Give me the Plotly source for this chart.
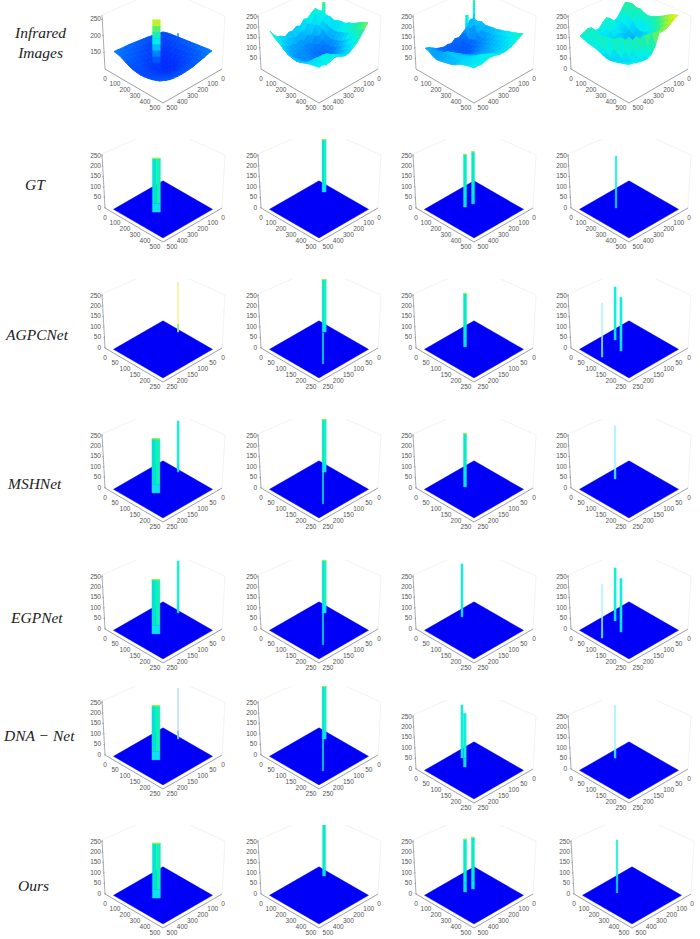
import plotly.graph_objects as go

# ---------- data ----------
ROW_LABELS = ["Infrared<br>Images", "GT", "AGPCNet", "MSHNet", "EGPNet", "DNA − Net", "Ours"]
AXIS_MAX = [500, 500, 250, 250, 250, 250, 500]
HEIGHT_TICKS = [0, 50, 100, 150, 200, 250]
FIRST_ROW_HEIGHT_TICKS = [[150, 200, 250], [50, 100, 150, 200, 250], [50, 100, 150, 200, 250], [0, 50, 100, 150, 200, 250]]
FIRST_ROW_BASE = [100, 0, 0, 0]

# infrared intensity surfaces, rows along the right axis, columns along the left axis
SURFACE_1 = [
    [130,133,136,138,141,143,145,147,149,151,152,153,155,156],
    [134,127,128,130,132,134,136,139,142,145,148,150,153,154],
    [137,128,124,124,125,127,130,133,137,140,144,147,150,150],
    [139,130,124,120,120,122,124,128,132,135,139,142,144,144],
    [141,132,126,120,116,116,118,122,126,130,134,138,140,138],
    [143,134,127,121,116,113,114,117,121,125,129,133,136,134],
    [145,136,129,122,117,113,112,113,117,121,126,130,133,132],
    [147,138,131,124,118,114,112,112,115,119,124,128,131,131],
    [149,141,134,127,121,116,113,113,115,119,124,128,131,132],
    [151,144,137,131,125,120,117,116,117,121,125,129,132,134],
    [153,147,141,135,130,126,123,122,122,125,128,131,134,137],
    [155,150,145,140,136,132,130,129,128,130,132,134,137,141],
    [157,153,149,145,141,138,136,135,134,135,136,138,141,146],
    [158,156,152,149,146,143,142,141,140,141,142,144,148,153]]
SURFACE_2 = [
    [150,172,160,145,150,128,138,125,130,118,132,140,158,187],
    [158,150,165,125,135,110,118,105,112,120,118,130,150,170],
    [148,135,118,130,95,105,88,100,92,105,100,118,128,158],
    [152,125,110,88,100,75,85,80,90,82,95,98,112,148],
    [145,118,95,82,70,80,68,78,85,80,88,92,102,136],
    [155,115,88,72,78,62,70,72,80,85,78,90,98,128],
    [160,120,92,70,62,68,58,65,75,78,82,85,95,124],
    [162,128,98,78,65,58,62,60,70,78,85,92,100,122],
    [175,135,108,90,75,68,60,68,72,85,95,100,108,126],
    [182,148,122,102,88,78,72,78,88,100,112,118,118,130],
    [195,165,138,118,102,95,92,98,108,122,135,138,128,135],
    [208,180,155,132,118,108,108,118,132,150,155,145,132,140],
    [218,195,170,148,130,122,125,135,148,158,155,142,138,145],
    [228,205,182,160,148,135,132,138,150,152,145,140,150,148]]
SURFACE_3 = [
    [112,118,90,75,62,68,55,60,58,65,72,85,98,105],
    [108,125,95,70,58,50,58,48,55,62,70,88,95,102],
    [118,110,120,62,50,46,44,50,52,60,72,82,98,88],
    [112,100,88,70,55,46,42,45,55,65,78,92,108,82],
    [115,98,80,72,62,52,48,50,62,78,92,108,112,85],
    [120,102,88,78,72,62,58,62,72,88,102,115,118,90],
    [122,108,96,88,82,75,70,72,82,96,108,118,120,95],
    [130,115,105,96,90,85,82,85,92,102,112,122,118,100],
    [135,122,112,105,98,95,90,92,98,108,118,122,118,108],
    [145,130,120,112,105,100,98,102,112,120,126,128,128,122],
    [150,138,128,120,112,108,108,115,125,132,136,132,130,130],
    [158,145,135,128,120,118,120,128,138,145,142,136,134,136],
    [165,152,142,136,130,128,132,140,148,152,145,138,140,142],
    [175,165,155,146,140,138,140,145,150,152,148,142,146,145]]
SURFACE_4 = [
    [188,200,175,150,142,165,178,165,145,150,172,178,170,163],
    [192,195,172,140,135,155,172,155,138,142,168,172,165,158],
    [185,192,165,130,125,145,155,142,130,138,165,170,160,152],
    [190,180,150,118,112,125,132,125,120,130,155,172,162,150],
    [182,165,130,108,102,108,115,110,112,128,150,180,165,148],
    [178,158,122,102,95,95,100,100,108,125,160,190,150,142],
    [185,162,128,108,96,92,95,100,112,135,178,195,135,135],
    [195,172,142,120,105,100,102,110,128,155,195,150,125,130],
    [205,188,162,138,122,115,118,130,152,185,205,138,122,130],
    [218,202,182,160,145,138,142,158,182,208,150,125,125,135],
    [232,218,200,182,170,168,175,190,212,160,132,125,130,140],
    [245,232,216,202,195,198,208,218,168,140,130,130,138,148],
    [255,245,230,220,215,222,225,170,145,135,135,140,148,155],
    [264,255,242,232,228,230,180,150,140,140,145,150,158,162]]
SURFACES = [SURFACE_1, SURFACE_2, SURFACE_3, SURFACE_4]

# spikes on the surfaces: (right-axis pos, left-axis pos, low value, high value)
SURFACE_SPIKES = [
    [(252, 308, 112, 262), (196, 69, 130, 160)],
    [(95, 55, 150, 207)],
    [(50, 50, 105, 200), (80, 140, 70, 168), (120, 170, 60, 110)],
    [],
]

# binary results: (right-axis pos, left-axis pos, value), one list per panel
GT_PEAKS = [[(252,308,260)], [(154,111,255)], [(205,281,255),(216,224,252)], [(195,305,250)]]
AGPCNET_PEAKS = [[(98,34,240)], [(77,55,255),(192,175,150)], [(102,140,258)], [(66,125,255),(101,215,258),(119,153,258)]]
MSHNET_PEAKS = [[(98,34,245),(128,158,262)], [(77,55,255),(192,175,158)], [(102,140,258)], [(62,121,255)]]
EGPNET_PEAKS = [[(98,34,250),(128,158,262)], [(77,55,255),(192,175,158)], [(55,106,255)], [(66,125,255),(101,215,258),(119,153,258)]]
DNANET_PEAKS = [[(98,34,245),(128,158,262)], [(77,55,255),(192,175,158)], [(59,110,255),(98,137,258)], [(55,114,252)]]
OURS_PEAKS = [[(252,308,265)], [(139,96,250)], [(197,273,255),(209,218,250)], [(179,306,255)]]
ROW_PEAKS = [None, GT_PEAKS, AGPCNET_PEAKS, MSHNET_PEAKS, EGPNET_PEAKS, DNANET_PEAKS, OURS_PEAKS]

# ---------- styles and layout ----------
PEAK_STYLES = [None,
    [[(8,"main")], [(4,"main")], [(3,"main"),(3,"main")], [(1.5,"thin")]],
    [[(1,"yellow")], [(4,"main"),(1.2,"thin")], [(3,"main")], [(2.2,"thin"),(1.2,"pale"),(2.2,"thin")]],
    [[(2,"thin"),(8,"main")], [(4,"main"),(1.2,"thin")], [(3,"main")], [(1.5,"pale")]],
    [[(2,"thin"),(8,"main")], [(4,"main"),(1.2,"thin")], [(2,"thin")], [(2.2,"thin"),(1.2,"pale"),(2.2,"thin")]],
    [[(1.2,"paleblue"),(8,"main")], [(4,"main"),(1.2,"thin")], [(2.2,"thin"),(2.8,"thin")], [(1.5,"pale")]],
    [[(8,"main")], [(3,"main")], [(3,"main"),(3,"main")], [(1.5,"thin")]],
]
SPIKE_WIDTHS = [[8, 1], [3], [2, 3, 1], []]
COL_X = [163, 319, 474, 629]
ROW_Y = [69, 208, 348, 488, 629, 755, 894]
HEAD, FOOT, HALF = 69, 45, 68
W, H = 700, 939
LABEL_POS = [(40, 43), (35, 184), (37, 335), (34, 483), (36, 617), (39, 735), (33, 885)]
STOPS = [(0,(0,24,255)),(.3,(0,100,255)),(.5,(0,200,255)),(.6,(0,240,240)),(.77,(30,240,160)),(.88,(140,240,70)),(1,(240,240,0))]


def cmap(t):
    t = max(0, min(1, t))
    for (a, ca), (b, cb) in zip(STOPS, STOPS[1:]):
        if t <= b:
            f = (t - a) / (b - a)
            return "rgb(%d,%d,%d)" % tuple(ca[i] + f * (cb[i] - ca[i]) for i in range(3))
    return "rgb(240,240,0)"


fig = go.Figure()
axes = {}


def poly(xs, ys, color, ax, lw=0.4):
    fig.add_trace(go.Scatter(x=xs + xs[:1], y=ys + ys[:1], mode="lines", fill="toself", fillcolor=color,
                             line=dict(color=color, width=lw), hoverinfo="skip", showlegend=False,
                             xaxis="x" + ax, yaxis="y" + ax, cliponaxis=True))


def line(xs, ys, color, width, ax):
    fig.add_trace(go.Scatter(x=xs, y=ys, mode="lines", line=dict(color=color, width=width), hoverinfo="skip",
                             showlegend=False, xaxis="x" + ax, yaxis="y" + ax, cliponaxis=False))


def text(xs, ys, labels, pos, ax):
    fig.add_trace(go.Scatter(x=xs, y=ys, mode="text", text=[str(v) for v in labels], textposition=pos,
                             textfont=dict(family="Liberation Sans", size=6.5, color="#555"), hoverinfo="skip",
                             showlegend=False, xaxis="x" + ax, yaxis="y" + ax, cliponaxis=False))


def proj(u, v, z=0.0, base=0.0, scale=0.208):
    return 59 * (u - v), -34 + 34 * (u + v) - (z - base) * scale


def frame(axmax, ticks, base, scale, ax):
    line([-61, 0, 62, 59], [-54, -81, -53, 0], "#efefef", 0.8, ax)
    line([-58, 0, 59], [0, 34, 0], "#a0a0a0", 1, ax)
    line([-58, -61], [0, -54], "#8a8a8a", 0.7, ax)
    tz = [(t - base) * scale for t in ticks]
    text([-62] * len(ticks), [-t for t in tz], ticks, "middle left", ax)
    for t in tz:
        line([-59 - t * .055, -57.5 - t * .055], [-t, -t - .6], "#777", 0.6, ax)
    n = [axmax * i // 5 for i in range(6)]
    lx = [-58 + 50 * i / 5 for i in range(6)]
    rx = [60 - 51 * i / 5 for i in range(6)]
    ly = [10 + 29 * i / 5 for i in range(6)]
    text(lx, ly, n, "middle center", ax)
    text(rx, ly, n, "middle center", ax)


def bar(x, ybase, ytop, w, kind, ax):
    l, rgt = x - w / 2, x + w / 2
    if kind in ("pale", "yellow", "paleblue"):
        col = {"pale": "#a8f4ff", "yellow": "#f4f088", "paleblue": "#bcdcff"}[kind]
        poly([l, rgt, rgt, l], [ybase, ybase, ytop, ytop], col, ax)
        foot = {"pale": "#30d8f0", "yellow": "#90e070", "paleblue": "#70b8f8"}[kind]
        poly([l, rgt, rgt, l], [ybase, ybase, ybase - 8, ybase - 8], foot, ax)
        return
    split = ybase - (ybase - ytop) * 0.16
    if kind == "main" and w >= 4:
        poly([l, x, x, l], [split, split, ytop, ytop], "#00e4d0", ax)
        poly([x, rgt, rgt, x], [split, split, ytop, ytop], "#14f0b8", ax)
    else:
        poly([l, rgt, rgt, l], [split, split, ytop, ytop], "#08ecc4" if kind == "main" else "#10f0d8", ax)
    poly([l, rgt, rgt, l], [ybase, ybase, split, split], "#10e0ee", ax)
    if kind == "main":
        poly([l, rgt, rgt, l], [ytop + 0.8, ytop + 0.8, ytop, ytop], "#d8f000", ax, 0.1)


panel = 0
for r, Y in enumerate(ROW_Y):
    for c in range(4):
        panel += 1
        ax = "" if panel == 1 else str(panel)
        cx = 632 if (r == 6 and c == 3) else COL_X[c]
        y_here = 769 if (r == 5 and c >= 2) else Y
        axes["xaxis" + ax] = dict(domain=[(cx - HALF) / W, (cx + HALF) / W], range=[-HALF, HALF], visible=False, fixedrange=True)
        axes["yaxis" + ax] = dict(domain=[1 - (y_here + FOOT) / H, 1 - (y_here - HEAD) / H], range=[FOOT, -HEAD], visible=False, fixedrange=True)
        axmax = AXIS_MAX[r]
        if r == 0:
            base = FIRST_ROW_BASE[c]
            scale = 0.33 if c == 0 else 0.208
            frame(axmax, FIRST_ROW_HEIGHT_TICKS[c], base, scale, ax)
            grid = SURFACES[c]
            n = len(grid)
            pos = [0.1 + 0.83 * i / (n - 1) for i in range(n)]
            lo, hi = (100, 262) if c == 0 else (-30, 262)
            step = pos[1] - pos[0]
            items = []
            for i in range(n - 1):
                for j in range(n - 1):
                    corners = [(i, j), (i + 1, j), (i + 1, j + 1), (i, j + 1)]
                    pts = [proj(pos[a], pos[b], grid[a][b], base, scale) for a, b in corners]
                    zm = sum(grid[a][b] for a, b in corners) / 4
                    items.append((pos[i] + pos[j] + step, "q", pts, zm))
            for (u, v, zl, zh), w in zip(SURFACE_SPIKES[c], SPIKE_WIDTHS[c]):
                items.append(((u + v) / axmax, "s", (u / axmax, v / axmax, zl, zh), w))
            items.sort(key=lambda it: it[0])
            for _, kind, a, b in items:
                if kind == "q":
                    poly([p[0] for p in a], [p[1] for p in a], cmap((b - lo) / (hi - lo)), ax, 0.9)
                else:
                    u, v, zl, zh = a
                    steps = 8
                    for k in range(steps):
                        z0 = zl + (zh - zl) * k / steps
                        z1 = zl + (zh - zl) * (k + 1) / steps
                        x, y0 = proj(u, v, z0, base, scale)
                        _, y1 = proj(u, v, z1, base, scale)
                        poly([x - b / 2, x + b / 2, x + b / 2, x - b / 2], [y0, y0, y1, y1], cmap(((z0 + z1) / 2 - lo) / (hi - lo)), ax, 0.3)
        else:
            frame(axmax, HEIGHT_TICKS, 0, 0.208, ax)
            f = [proj(a, b) for a, b in [(.1, .1), (.94, .1), (.94, .94), (.1, .94)]]
            poly([p[0] for p in f], [p[1] for p in f], "#0000f8", ax)
            order = sorted(zip(ROW_PEAKS[r][c], PEAK_STYLES[r][c]), key=lambda t: t[0][0] + t[0][1])
            for (u, v, z), (w, kind) in order:
                x, y0 = proj(u / axmax, v / axmax)
                _, y1 = proj(u / axmax, v / axmax, z)
                bar(x, y0, y1, w, kind, ax)

fig.update_layout(width=W, height=H, margin=dict(l=0, r=0, t=0, b=0), paper_bgcolor="white", plot_bgcolor="rgba(0,0,0,0)",
                  showlegend=False, **axes)
for lab, (x, y) in zip(ROW_LABELS, LABEL_POS):
    fig.add_annotation(text=lab, x=x / W, y=1 - y / H, xref="paper", yref="paper", showarrow=False, xanchor="center", yanchor="middle",
                       align="center", font=dict(family="Liberation Serif", size=15.5, color="#222", style="italic"))
fig.write_html("out.html", post_script="document.body.style.margin='0';", config=dict(displayModeBar=False))
